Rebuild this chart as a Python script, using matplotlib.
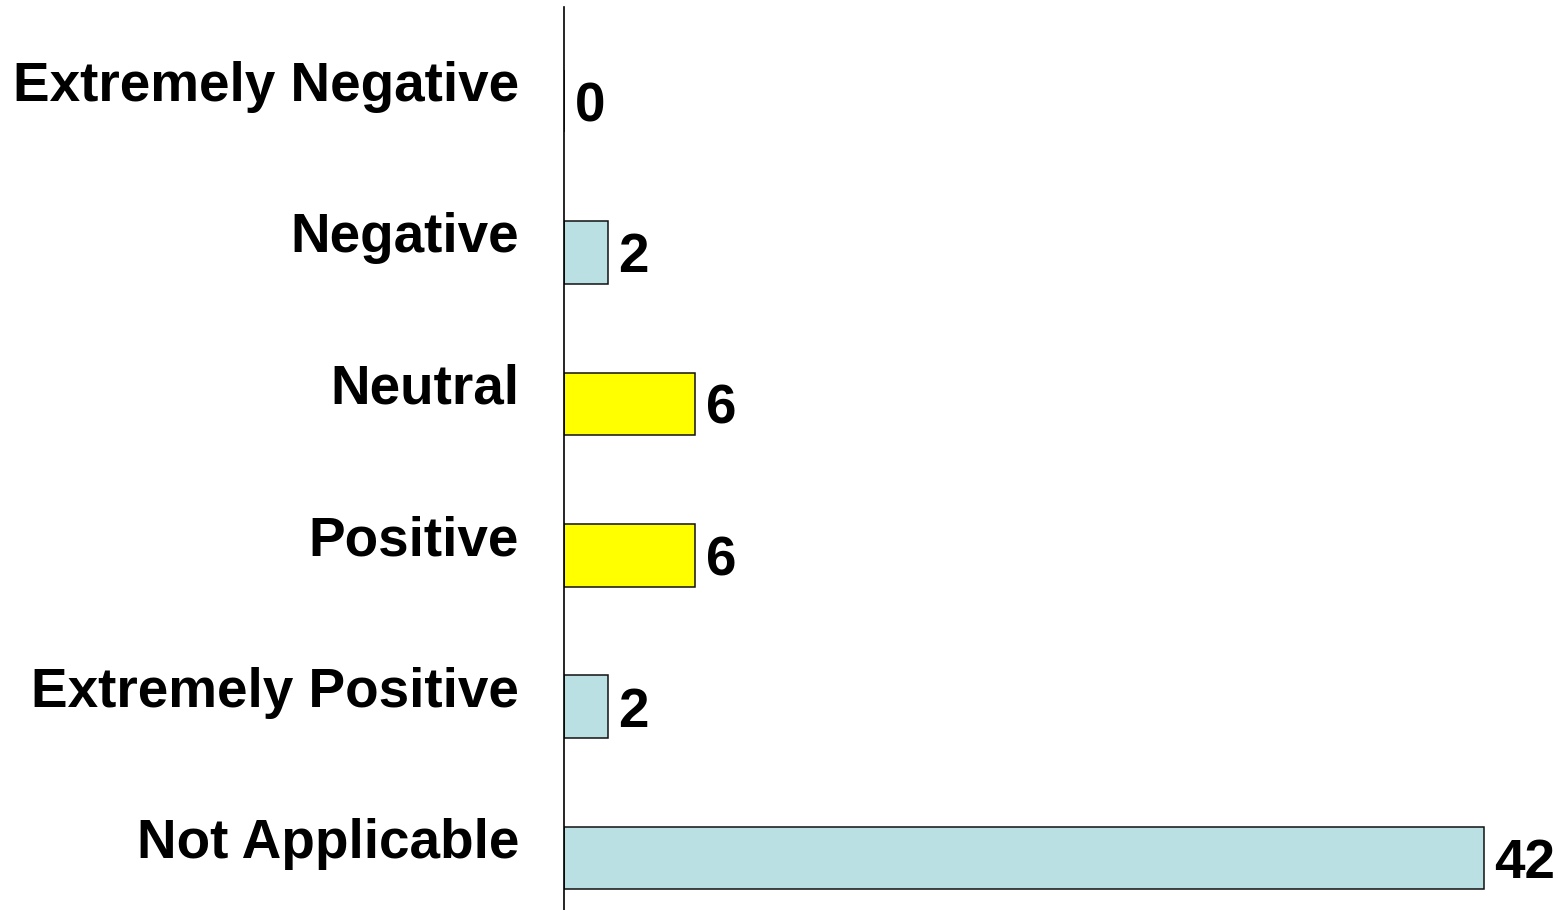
import matplotlib
matplotlib.use("Agg")
import matplotlib.pyplot as plt

categories = ["Extremely Negative", "Negative", "Neutral", "Positive",
              "Extremely Positive", "Not Applicable"]
values = [0, 2, 6, 6, 2, 42]
colors = ["#BBE0E3", "#BBE0E3", "#FFFF00", "#FFFF00", "#BBE0E3", "#BBE0E3"]

plt.rcParams['font.family'] = ['Liberation Sans', 'DejaVu Sans']

W, H = 1566, 910
fig = plt.figure(figsize=(W / 100, H / 100), dpi=100)
left_px, top_px = 564, 7
xmax = 45
px_per_unit = (1484 - 564) / 42
width_px = xmax * px_per_unit
ax = fig.add_axes([left_px / W, 0, width_px / W, 1 - top_px / H])

pos = list(range(len(categories)))
ax.barh(pos, values, height=0.413, color=colors, edgecolor="#111111", linewidth=1.1)
ax.set_xlim(0, xmax)
ax.set_ylim(5.343, -0.621)

for s in ["top", "right", "bottom"]:
    ax.spines[s].set_visible(False)
ax.spines["left"].set_linewidth(1.2)
ax.set_xticks([])
ax.set_yticks([])

fs = 39.5
for i, (c, v) in enumerate(zip(categories, values)):
    ax.annotate(c, xy=(0, i), xycoords=("axes fraction", "data"),
                xytext=(-45 * 0.72, 0), textcoords="offset points",
                ha="right", va="baseline", fontsize=fs, fontweight="bold")
    ax.annotate(str(v), xy=(v, i), xycoords="data",
                xytext=(10.5 * 0.72, -20 * 0.72), textcoords="offset points",
                ha="left", va="baseline", fontsize=fs, fontweight="bold")

fig.savefig("out.png", dpi=100)
